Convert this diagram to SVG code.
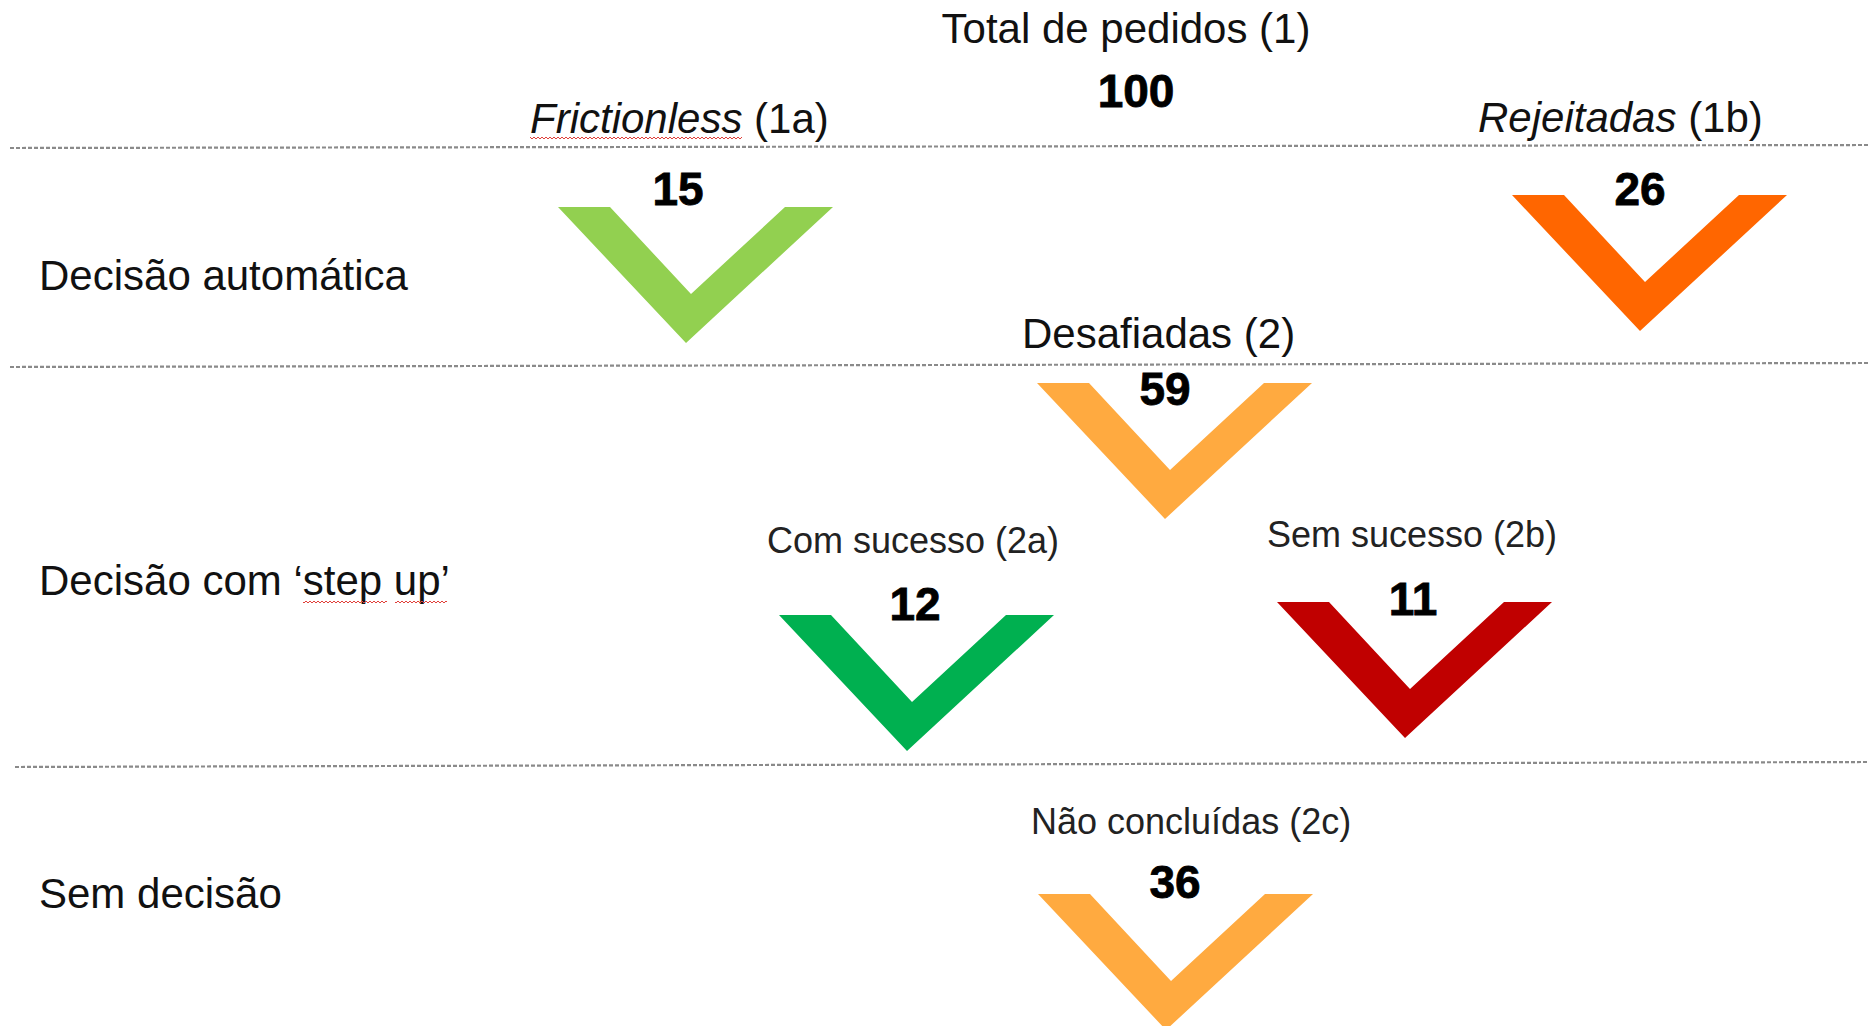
<svg xmlns="http://www.w3.org/2000/svg" width="1868" height="1026" viewBox="0 0 1868 1026">
  <style>
    .lbl { font-family: "Liberation Sans", Arial, sans-serif; font-size: 42px; fill: #111; }
    .sm { font-family: "Liberation Sans", Arial, sans-serif; font-size: 36px; fill: #222; }
    .num { font-family: "Liberation Sans", Arial, sans-serif; font-size: 46px; font-weight: bold; fill: #000; text-anchor: middle; stroke: #000; stroke-width: 0.8; }
    .mid { text-anchor: middle; }
    .it { font-style: italic; }
    .sep { stroke: #8a8a8a; stroke-width: 2.2; stroke-dasharray: 4 2; fill: none; }
    .lg { fill: #92D050; }
    .or { fill: #FF6600; }
    .lo { fill: #FFAA40; }
    .gr { fill: #00B050; }
    .rd { fill: #C00000; }
  </style>
  <defs>
    <polygon id="chev" points="0,0 52,0 133,87 227,0 275,0 128,136"/>
    <pattern id="squig" x="0" y="0" width="4" height="4" patternUnits="userSpaceOnUse">
      <path d="M0,3 L2,1 L4,3" stroke="#e0403a" stroke-width="1" fill="none"/>
    </pattern>
  </defs>
  <rect width="1868" height="1026" fill="#ffffff"/>

  <g id="lines">
    <line class="sep" x1="10" y1="148" x2="1868" y2="145"/>
    <line class="sep" x1="10" y1="367" x2="1868" y2="363"/>
    <line class="sep" x1="15" y1="767" x2="1868" y2="762"/>
  </g>

  <g id="row-labels">
    <text class="lbl" x="39" y="290">Decisão automática</text>
    <text class="lbl" x="39" y="595">Decisão com ‘step up’</text>
    <rect x="303" y="600" width="84" height="4" fill="url(#squig)"/>
    <rect x="395" y="600" width="52" height="4" fill="url(#squig)"/>
    <text class="lbl" x="39" y="908">Sem decisão</text>
  </g>

  <g id="n1">
    <text class="lbl mid" x="1126" y="43">Total de pedidos (1)</text>
    <text class="num" x="1136" y="107">100</text>
  </g>

  <g id="n1a">
    <text class="lbl" x="530" y="133"><tspan class="it">Frictionless</tspan> (1a)</text>
    <rect x="530" y="137" width="212" height="4" fill="url(#squig)"/>
    <use href="#chev" class="lg" x="558" y="207"/>
    <text class="num" x="678" y="205">15</text>
  </g>

  <g id="n1b">
    <text class="lbl" x="1478" y="132"><tspan class="it">Rejeitadas</tspan> (1b)</text>
    <use href="#chev" class="or" x="1512" y="195"/>
    <text class="num" x="1640" y="205">26</text>
  </g>

  <g id="n2">
    <text class="lbl" x="1022" y="348">Desafiadas (2)</text>
    <use href="#chev" class="lo" x="1037" y="383"/>
    <text class="num" x="1165" y="405">59</text>
  </g>

  <g id="n2a">
    <text class="sm" x="767" y="553">Com sucesso (2a)</text>
    <use href="#chev" class="gr" x="779" y="615"/>
    <text class="num" x="915" y="620">12</text>
  </g>

  <g id="n2b">
    <text class="sm" x="1267" y="547">Sem sucesso (2b)</text>
    <use href="#chev" class="rd" x="1277" y="602"/>
    <text class="num" x="1413" y="615">11</text>
  </g>

  <g id="n2c">
    <text class="sm" x="1031" y="834">Não concluídas (2c)</text>
    <use href="#chev" class="lo" x="1038" y="894"/>
    <text class="num" x="1175" y="898">36</text>
  </g>
</svg>
